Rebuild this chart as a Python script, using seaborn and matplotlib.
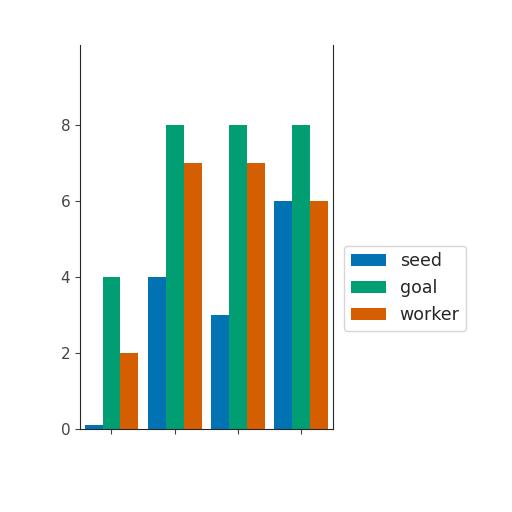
import pandas as pd
import matplotlib
matplotlib.use("Agg")
import matplotlib.pyplot as plt
import seaborn as sns

# values
groups = ["A", "B", "C", "D"]
seed = [0.1, 4, 3, 6]
goal = [4, 8, 8, 8]
worker = [2, 7, 7, 6]

df = pd.DataFrame({"group": groups, "seed": seed, "goal": goal, "worker": worker})
long_df = df.melt(id_vars="group", var_name="series", value_name="value")

cb = sns.color_palette("colorblind")
palette = [cb[0], cb[2], cb[3]]

sns.set_style("ticks")
fig = plt.figure(figsize=(5.12, 5.12), dpi=100)
ax = fig.add_axes([0.156, 0.162, 0.494, 0.75])

sns.barplot(data=long_df, x="group", y="value", hue="series",
            palette=palette, saturation=1, width=0.85, linewidth=0, ax=ax)

ax.set_ylim(0, 10.1)
ax.set_yticks([0, 2, 4, 6, 8])
ax.set_xticklabels([])
ax.set_xlabel("")
ax.set_ylabel("")
ax.tick_params(labelsize=11, colors="#444444")
ax.spines["top"].set_visible(False)

ax.legend(loc="center left", bbox_to_anchor=(1.01, 0.367), fontsize=12.5,
          frameon=True, edgecolor="#cccccc")

fig.savefig("out.png", dpi=100)
